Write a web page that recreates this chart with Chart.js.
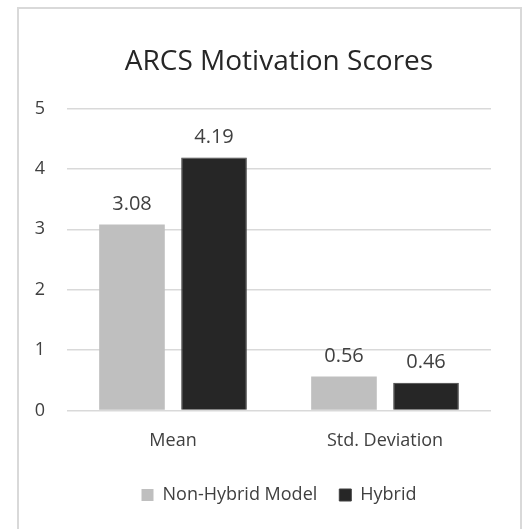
<!DOCTYPE html>
<html>
<head>
<meta charset="utf-8">
<script src="https://cdn.jsdelivr.net/npm/chart.js@4/dist/chart.umd.min.js"></script>
<style>
  body { margin: 0; background: #fff; }
  #frame {
    position: absolute; left: 17px; top: 7px; width: 505px; height: 530px;
    border: 2px solid #d9d9d9; box-sizing: border-box;
  }
  #wrap { position: absolute; left: 0; top: 0; width: 528px; height: 529px; }
</style>
</head>
<body>
<div id="frame"></div>
<div id="wrap"><canvas id="chart"></canvas></div>
<script>
var categories = ["Mean", "Std. Deviation"];
var nonHybrid = [3.08, 0.56];
var hybrid = [4.19, 0.46];
var seriesNames = ["Non-Hybrid Model", "Hybrid"];
var yTicks = [0, 1, 2, 3, 4, 5];

var FONT = "'Open Sans', 'Liberation Sans', sans-serif";
var TEXT = "#404040";

// value labels above bars
var barValues = {
    id: 'barValues',
    afterDatasetsDraw: function (chart) {
        var ctx = chart.ctx;
        ctx.save();
        ctx.font = "20px " + FONT;
        ctx.fillStyle = TEXT;
        ctx.textAlign = "center";
        ctx.textBaseline = "middle";
        chart.data.datasets.forEach(function (ds, i) {
            var meta = chart.getDatasetMeta(i);
            meta.data.forEach(function (bar, j) {
                ctx.fillText(ds.data[j].toFixed(2), bar.x, bar.y - 20);
            });
        });
        ctx.restore();
    }
};

new Chart(document.getElementById('chart').getContext('2d'), {
    type: 'bar',
    data: {
        labels: categories,
        datasets: [{
            label: seriesNames[0],
            data: nonHybrid,
            backgroundColor: "#bfbfbf",
            categoryPercentage: 0.774,
            barPercentage: 0.8
        }, {
            label: seriesNames[1],
            data: hybrid,
            backgroundColor: "#262626",
            borderColor: "#404040",
            borderWidth: 1,
            categoryPercentage: 0.774,
            barPercentage: 0.8
        }]
    },
    options: {
        responsive: true,
        maintainAspectRatio: false,
        animation: false,
        layout: { padding: { left: 20, right: 37, top: 37, bottom: 15 } },
        plugins: {
            title: {
                display: true,
                fullSize: false,
                text: "ARCS Motivation Scores",
                color: "#262626",
                font: { family: FONT, size: 28, weight: 'normal' },
                padding: { top: 8, bottom: 30 }
            },
            legend: {
                position: 'bottom',
                fullSize: false,
                labels: {
                    boxWidth: 12,
                    boxHeight: 12,
                    padding: 22,
                    color: TEXT,
                    font: { family: FONT, size: 18 }
                }
            },
            tooltip: { enabled: false }
        },
        scales: {
            x: {
                grid: { display: false },
                border: { display: false },
                ticks: { color: TEXT, padding: 12, font: { family: FONT, size: 18 } }
            },
            y: {
                min: 0,
                max: 5,
                afterBuildTicks: function (scale) {
                    scale.ticks = yTicks.map(function (v) { return { value: v }; });
                },
                afterFit: function (scale) { scale.width = 47; },
                grid: { color: "#d9d9d9", lineWidth: 1.5, drawTicks: false },
                border: { display: false },
                ticks: { color: TEXT, padding: 22, font: { family: FONT, size: 18 } }
            }
        }
    },
    plugins: [barValues]
});
</script>
</body>
</html>
